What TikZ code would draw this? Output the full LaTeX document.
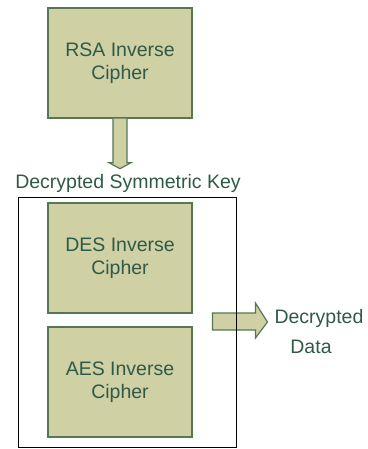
\documentclass[tikz,border=0pt]{standalone}
\usepackage{fontspec}
\setmainfont{Liberation Sans}
\usetikzlibrary{calc}
\definecolor{boxfill}{HTML}{CFD0A4}
\definecolor{boxline}{HTML}{557755}
\definecolor{labeltext}{HTML}{2F5A47}
\begin{document}
\begin{tikzpicture}[x=1pt,y=-1pt,
  cipherbox/.style={draw=boxline,line width=1.4pt,fill=boxfill,
    minimum width=144pt,minimum height=110pt,inner sep=0pt,
    text=labeltext,align=center,
    font=\fontsize{19.5pt}{23pt}\selectfont},
  label text/.style={text=labeltext,align=center,inner sep=0pt,
    font=\fontsize{19.5pt}{30pt}\selectfont},
  blockarrow/.style={draw=boxline,line width=1.2pt,fill=boxfill,line join=miter}]
\useasboundingbox (0,0) rectangle (367,449);
% top cipher and its output key
\node[cipherbox] (rsa) at (120,63) {RSA Inverse\\Cipher};
\node[label text] (key) at (128,183) {Decrypted Symmetric Key};
% container holding the two symmetric ciphers
\node[draw=black,line width=0.9pt,minimum width=218pt,minimum height=250pt,inner sep=0pt] (group) at (127,322) {};
% output arrow, passing behind the container border
\draw[blockarrow]
  ($(group.east)+(-24,-9)$) -- ($(group.east)+(19,-9)$) -- ($(group.east)+(19,-19)$)
  -- ($(group.east)+(31,0)$) -- ($(group.east)+(19,16)$) -- ($(group.east)+(19,8)$)
  -- ($(group.east)+(-24,8)$) -- cycle;
\draw[black,line width=0.9pt] (group.north east) -- (group.south east);
\node[cipherbox] (des) at (120,258) {DES Inverse\\Cipher};
\node[cipherbox] (aes) at (120,382) {AES Inverse\\Cipher};
% key arrow from the RSA cipher
\draw[blockarrow]
  ($(rsa.south)+(-7,0)$) -- ($(rsa.south)+(-7,44)$) -- ($(rsa.south)+(-11,44)$)
  -- ($(rsa.south)+(0,50)$) -- ($(rsa.south)+(11,44)$) -- ($(rsa.south)+(7,44)$)
  -- ($(rsa.south)+(7,0)$);
\node[label text,anchor=north] (data) at (319,309) {Decrypted\\\hspace*{-16pt}Data};
\end{tikzpicture}
\end{document}
